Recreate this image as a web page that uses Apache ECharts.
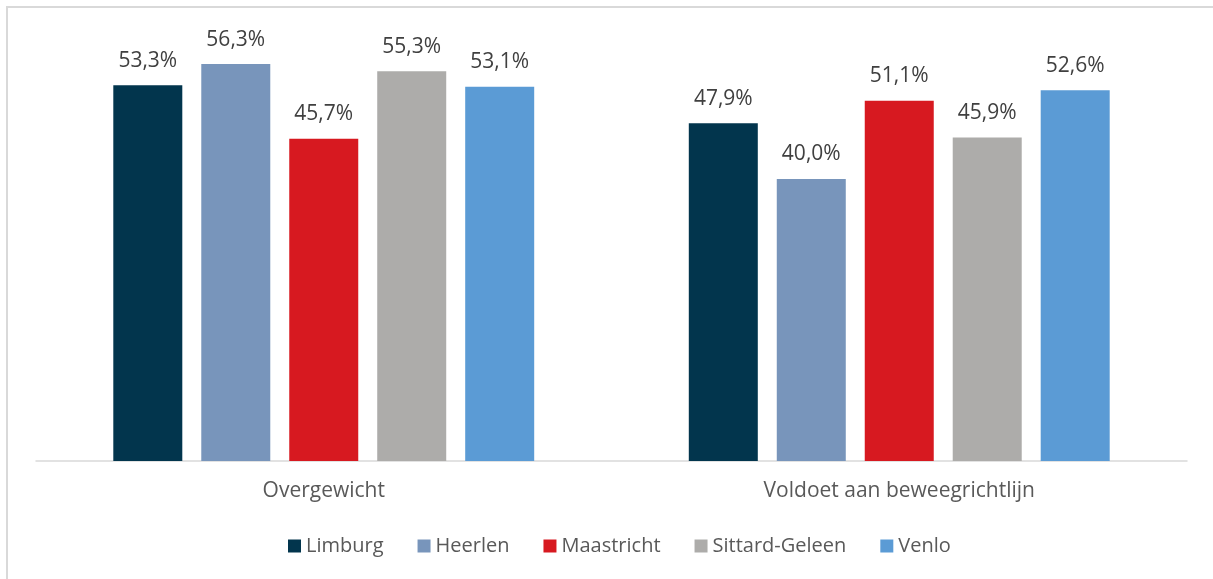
<!DOCTYPE html>
<html>
<head>
<meta charset="utf-8">
<script src="https://cdn.jsdelivr.net/npm/echarts@6/dist/echarts.min.js"></script>
<style>
  html, body { margin: 0; padding: 0; background: #fff; }
  #chart { position: absolute; left: 0; top: 0; width: 1213px; height: 579px; }
  #frame { position: absolute; left: 6px; top: 6px; width: 1230px; height: 600px;
           border: 2px solid #d9d9d9; pointer-events: none; }
</style>
</head>
<body>
<div id="chart"></div>
<div id="frame"></div>
<script>
// categories and series
const categories = ['Overgewicht', 'Voldoet aan beweegrichtlijn']
const limburg = [53.3, 47.9]
const heerlen = [56.3, 40.0]
const maastricht = [45.7, 51.1]
const sittardGeleen = [55.3, 45.9]
const venlo = [53.1, 52.6]

const seriesNames = ['Limburg', 'Heerlen', 'Maastricht', 'Sittard-Geleen', 'Venlo']
const seriesData = [limburg, heerlen, maastricht, sittardGeleen, venlo]
const colors = ['#02354d', '#7895bb', '#d71920', '#adacaa', '#5b9bd5']

const font = '"Open Sans", "Liberation Sans", sans-serif'

const chart = echarts.init(document.getElementById('chart'))

chart.setOption({
  animation: false,
  color: colors,
  grid: {
    left: 36,
    right: 26,
    top: 38,
    bottom: 118
  },
  legend: {
    data: seriesNames,
    bottom: 18,
    left: 283,
    itemWidth: 13,
    itemHeight: 13,
    itemGap: 34,
    icon: 'rect',
    textStyle: {
      fontFamily: font,
      fontSize: 20,
      color: '#595959'
    }
  },
  xAxis: {
    type: 'category',
    data: categories,
    axisLine: { lineStyle: { color: '#d9d9d9', width: 1.5 } },
    axisTick: { show: false },
    axisLabel: {
      margin: 20,
      fontFamily: font,
      fontSize: 21,
      color: '#595959'
    }
  },
  yAxis: {
    type: 'value',
    min: 0,
    max: 60,
    show: false,
    splitLine: { show: false }
  },
  series: seriesNames.map((name, i) => ({
    name: name,
    type: 'bar',
    barWidth: 69,
    barGap: '27.5%',
    data: seriesData[i],
    label: {
      show: true,
      position: 'top',
      distance: 14,
      fontFamily: font,
      fontSize: 21,
      color: '#404040',
      formatter: p => p.value.toFixed(1).replace('.', ',') + '%'
    }
  }))
})
</script>
</body>
</html>
